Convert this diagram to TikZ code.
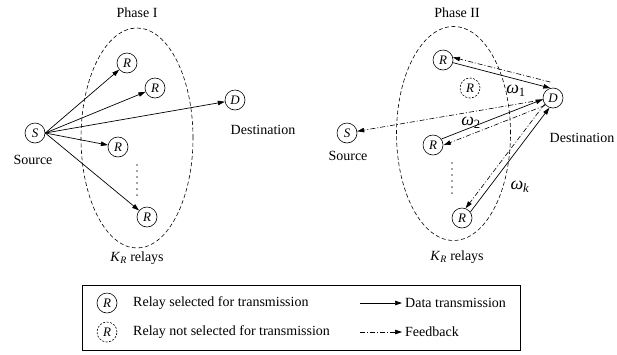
\documentclass[tikz,border=0pt]{standalone}
\usepackage{fontspec}
\setmainfont{Liberation Serif}
\usetikzlibrary{arrows.meta,calc}
\begin{document}
\begin{tikzpicture}[x=1pt,y=-1pt,
  nd/.style={circle,draw,line width=0.6pt,minimum size=20pt,inner sep=0pt,font=\fontsize{13}{14}\selectfont\itshape},
  ndx/.style={nd,dash pattern=on 2pt off 1.5pt},
  lbl/.style={font=\fontsize{14}{16}\selectfont, inner sep=0pt},
  wlbl/.style={font=\fontsize{18}{20}\selectfont, inner sep=0pt},
  grp/.style={draw,dash pattern=on 4pt off 2.5pt,line width=0.6pt},
  data/.style={-{Triangle[length=7pt,width=4.5pt]},line width=0.7pt},
  fb/.style={-{Triangle[length=7pt,width=4.5pt]},line width=0.6pt,dash pattern=on 5pt off 2pt on 1pt off 2pt},
  dotsty/.style={line width=1.2pt,dash pattern=on 0.01pt off 6pt,line cap=round},
]
\useasboundingbox (0,0) rectangle (617,354);

% ---------------- Phase I ----------------
\node[lbl] (ph1) at (137,13) {Phase I};
\draw[grp] (137,138) ellipse [x radius=56pt, y radius=110pt];
\node[nd] (s1) at (35,133) {S};
\node[lbl] (src1) at (33,160) {Source};
\node[nd] (a1) at (127,63) {R};
\node[nd] (a2) at (155,88) {R};
\node[nd] (a3) at (118,147) {R};
\node[nd] (a4) at (147,217) {R};
\node[nd] (d1) at (235,100) {D};
\node[lbl] (dst1) at (263,130) {Destination};
\node[lbl] (kr1) at (137,258) {\textit{K}\textsubscript{\textit{R}} relays};
\coordinate (dt1) at (137,165);
\coordinate (db1) at (137,196);
\draw[dotsty] (dt1) -- (db1);
\foreach \t in {a1,a2,d1,a3,a4} \draw[data] (s1.east) -- (\t);

% ---------------- Phase II ----------------
\node[lbl] (ph2) at (457,13) {Phase II};
\draw[grp] (453.5,133.5) ellipse [x radius=57pt, y radius=107pt];
\node[nd] (b1) at (443,60) {R};
\node[ndx] (bx) at (470,88) {R};
\node[nd] (d2) at (553,98) {D};
\node[nd] (s2) at (347,133) {S};
\node[lbl] (src2) at (348,156) {Source};
\node[nd] (b2) at (433,145) {R};
\node[nd] (b3) at (462,218) {R};
\node[lbl] (dst2) at (582,138) {Destination};
\node[lbl] (kr2) at (457,257) {\textit{K}\textsubscript{\textit{R}} relays};
\coordinate (dt2) at (452,163);
\coordinate (db2) at (452,194);
\draw[dotsty] (dt2) -- (db2);

\node[wlbl] (w1) at (516,91) {\textit{ω}\textsubscript{1}};
\node[wlbl] (w2) at (471,123) {\textit{ω}\textsubscript{2}};
\node[wlbl] (wk) at (520,187) {\textit{ω}\textsubscript{\textit{k}}};

% data (solid) and feedback (dash-dot)
\draw[data] (b1.-15) -- (d2.105);
\draw[fb] ([yshift=6pt]d2.105) -- (b1.15);

\draw[data,shorten <=10pt,shorten >=10pt] ($(b2)!2.5pt!90:(d2)$) -- ($(d2)!2.5pt!-90:(b2)$);
\draw[fb,shorten <=10pt,shorten >=10pt] ($(d2)!4pt!90:(b2)$) -- ($(b2)!4pt!-90:(d2)$);

\draw[data,shorten <=10pt,shorten >=10pt] ($(b3)!3pt!-90:(d2)$) -- ($(d2)!3pt!90:(b3)$);
\draw[fb,shorten <=10pt,shorten >=10pt] ($(d2)!3pt!-90:(b3)$) -- ($(b3)!3pt!90:(d2)$);

\draw[fb] (d2) -- (s2);

% ---------------- Legend ----------------
\coordinate (lgA) at (82,285);
\coordinate (lgB) at (520,350);
\draw[line width=0.6pt] (lgA) rectangle (lgB);
\node[nd] (lr1) at (107,303) {R};
\node[lbl,anchor=west] (lt1) at (133,303) {Relay selected for transmission};
\node[ndx] (lr2) at (107,332) {R};
\node[lbl,anchor=west] (lt2) at (133,332) {Relay not selected for transmission};
\coordinate (la1) at (360,303);
\coordinate (lb1) at (402,303);
\draw[data] (la1) -- (lb1);
\node[lbl,anchor=west] (lt3) at (405,303) {Data transmission};
\coordinate (la2) at (360,332);
\coordinate (lb2) at (402,332);
\draw[fb] (la2) -- (lb2);
\node[lbl,anchor=west] (lt4) at (405,332) {Feedback};
\end{tikzpicture}
\end{document}
